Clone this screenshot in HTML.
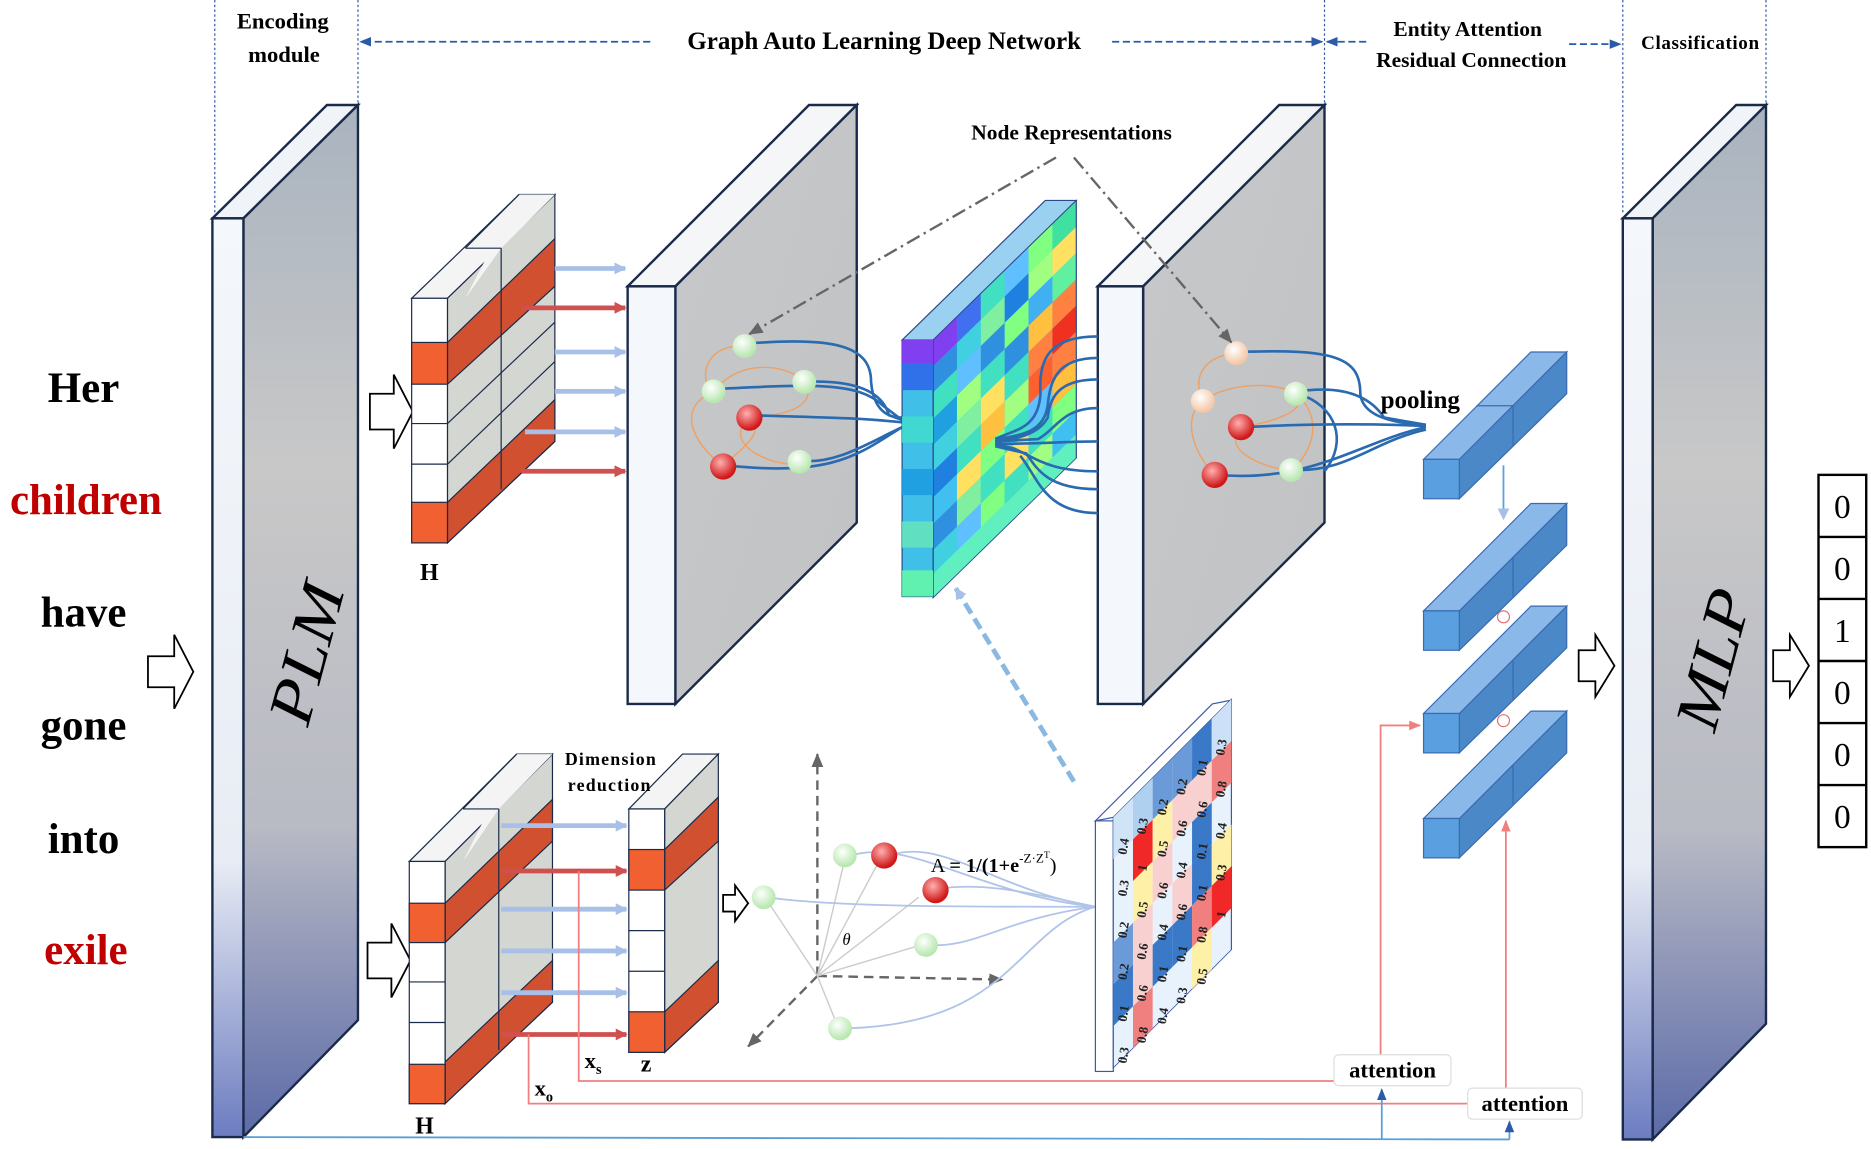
<!DOCTYPE html>
<html><head><meta charset="utf-8"><style>
html,body{margin:0;padding:0;background:#fff;}
svg{display:block;}
text{font-family:"Liberation Serif",serif;}
</style></head><body>
<svg width="1871" height="1149" viewBox="0 0 1568 963" preserveAspectRatio="none" xmlns="http://www.w3.org/2000/svg">
<defs>
<linearGradient id="side" x1="0" y1="0" x2="0" y2="1">
<stop offset="0" stop-color="#a9b3bf"/><stop offset="0.35" stop-color="#c8c8c8"/><stop offset="0.7" stop-color="#b8bac4"/><stop offset="1" stop-color="#5c6aa8"/></linearGradient>
<linearGradient id="front" x1="0" y1="0" x2="0" y2="1">
<stop offset="0" stop-color="#f4f8fc"/><stop offset="0.7" stop-color="#e8ecf4"/><stop offset="1" stop-color="#6c7cc0"/></linearGradient>
<linearGradient id="panel" x1="0" y1="0" x2="1" y2="1">
<stop offset="0" stop-color="#c6c8ca"/><stop offset="1" stop-color="#c0c2c4"/></linearGradient>
<radialGradient id="rb" cx="0.4" cy="0.35" r="0.6"><stop offset="0" stop-color="#ffb0b0"/><stop offset="1" stop-color="#d01818"/></radialGradient>
<radialGradient id="gb" cx="0.4" cy="0.35" r="0.6"><stop offset="0" stop-color="#ffffff"/><stop offset="1" stop-color="#b8e8b0"/></radialGradient>
<radialGradient id="pb" cx="0.4" cy="0.35" r="0.6"><stop offset="0" stop-color="#ffffff"/><stop offset="1" stop-color="#f4c8a8"/></radialGradient>
<marker id="ab" markerUnits="userSpaceOnUse" markerWidth="10" markerHeight="10" refX="9" refY="5" orient="auto"><path d="M0,1 L10,5 L0,9 z" fill="#2a5aa8"/></marker>
<marker id="ar" markerUnits="userSpaceOnUse" markerWidth="10" markerHeight="10" refX="9" refY="5" orient="auto"><path d="M0,0 L10,5 L0,10 z" fill="#d05050"/></marker>
<marker id="al" markerUnits="userSpaceOnUse" markerWidth="10" markerHeight="10" refX="9" refY="5" orient="auto"><path d="M0,0 L10,5 L0,10 z" fill="#a8c0e8"/></marker>
<marker id="ag" markerUnits="userSpaceOnUse" markerWidth="12" markerHeight="12" refX="11" refY="6" orient="auto"><path d="M0,1 L12,6 L0,11 z" fill="#666"/></marker>
<marker id="ap" markerUnits="userSpaceOnUse" markerWidth="10" markerHeight="10" refX="9" refY="5" orient="auto"><path d="M0,1 L10,5 L0,9 z" fill="#f08080"/></marker>
</defs>

<!-- header -->
<g stroke="#2a5aa8" stroke-dasharray="2,2" stroke-width="1">
<line x1="180" y1="0" x2="180" y2="180"/><line x1="300" y1="0" x2="300" y2="88"/>
<line x1="1110" y1="0" x2="1110" y2="88"/><line x1="1360" y1="0" x2="1360" y2="180"/><line x1="1480" y1="0" x2="1480" y2="88"/>
</g>
<text x="237" y="24" font-size="19" font-weight="bold" text-anchor="middle">Encoding</text>
<text x="238" y="52" font-size="19" font-weight="bold" text-anchor="middle">module</text>
<g stroke="#2a5aa8" stroke-width="1.5" stroke-dasharray="6,3" fill="none">
<line x1="545" y1="35" x2="302" y2="35" marker-end="url(#ab)"/>
<line x1="932" y1="35" x2="1108" y2="35" marker-end="url(#ab)"/>
<line x1="1145" y1="35" x2="1112" y2="35" marker-end="url(#ab)"/>
<line x1="1315" y1="37" x2="1358" y2="37" marker-end="url(#ab)"/>
</g>
<text x="741" y="41" font-size="21" font-weight="bold" text-anchor="middle">Graph Auto  Learning Deep Network</text>
<text x="1230" y="30" font-size="18" font-weight="bold" text-anchor="middle">Entity Attention</text>
<text x="1233" y="56" font-size="18" font-weight="bold" text-anchor="middle">Residual Connection</text>
<text x="1425" y="41" font-size="16" font-weight="bold" text-anchor="middle" letter-spacing="0.5">Classification</text>

<!-- words -->
<g font-size="36" font-weight="bold" text-anchor="middle">
<text x="70" y="337">Her</text>
<text x="72" y="431" fill="#c00000">children</text>
<text x="70" y="525">have</text>
<text x="70" y="620">gone</text>
<text x="70" y="715">into</text>
<text x="72" y="808" fill="#c00000">exile</text>
</g>

<!-- hollow arrows -->
<g fill="#fff" stroke="#000" stroke-width="1.5">
<path d="M124,550 L146,550 L146,532 L162,563 L146,594 L146,576 L124,576 z"/>
<path d="M310,330 L330,330 L330,314 L346,345 L330,376 L330,360 L310,360 z"/>
<path d="M308,790 L328,790 L328,774 L344,805 L328,836 L328,820 L308,820 z"/>
<path d="M1323,545 L1337,545 L1337,532 L1353,558 L1337,584 L1337,571 L1323,571 z"/>
<path d="M1486,545 L1500,545 L1500,532 L1516,558 L1500,584 L1500,571 L1486,571 z"/>
<path d="M606,750 L616,750 L616,742 L627,757 L616,772 L616,764 L606,764 z"/>
</g>

<!-- PLM -->
<polygon points="178,183 204,183 300,88 274,88" fill="#f0f4f8" stroke="#1a2a4a" stroke-width="2"/>
<polygon points="204,183 300,88 300,855 204,953" fill="url(#side)" stroke="#1a2a4a" stroke-width="2"/>
<rect x="178" y="183" width="26" height="770" fill="url(#front)" stroke="#1a2a4a" stroke-width="2"/>
<text x="0" y="0" font-size="52" font-style="italic" transform="translate(258,610) rotate(-75)" textLength="120" lengthAdjust="spacingAndGlyphs">PLM</text>

<!-- MLP -->
<polygon points="1360,183 1385,183 1480,88 1455,88" fill="#f0f4f8" stroke="#1a2a4a" stroke-width="2"/>
<polygon points="1385,183 1480,88 1480,858 1385,955" fill="url(#side)" stroke="#1a2a4a" stroke-width="2"/>
<rect x="1360" y="183" width="25" height="772" fill="url(#front)" stroke="#1a2a4a" stroke-width="2"/>
<text x="0" y="0" font-size="52" font-style="italic" transform="translate(1437,615) rotate(-75)" textLength="120" lengthAdjust="spacingAndGlyphs">MLP</text>

<!-- output -->
<g stroke="#000" stroke-width="2" fill="#fff">
<rect x="1524" y="398" width="40" height="312"/>
<line x1="1524" y1="450" x2="1564" y2="450"/><line x1="1524" y1="502" x2="1564" y2="502"/>
<line x1="1524" y1="554" x2="1564" y2="554"/><line x1="1524" y1="606" x2="1564" y2="606"/>
<line x1="1524" y1="658" x2="1564" y2="658"/>
</g>
<g font-size="28" text-anchor="middle">
<text x="1544" y="434">0</text><text x="1544" y="486">0</text><text x="1544" y="538">1</text>
<text x="1544" y="590">0</text><text x="1544" y="642">0</text><text x="1544" y="694">0</text>
</g>

<!-- top H stack -->
<g stroke="#1a2a4a" stroke-width="1">
<polygon points="345,250 375,250 465,163 435,163" fill="#f4f4f4"/>
<polygon points="375,250 465,163 465,370 375,455" fill="#d4d6d2"/>
<polygon points="390,250 420,208 465,163 435,163" fill="#f4f4f4" stroke="none"/>
<polygon points="375,287 465,200 465,240 375,322" fill="#d05030"/>
<polygon points="375,421 465,335 465,370 375,455" fill="#d05030"/>
<rect x="345" y="250" width="30" height="205" fill="#fff"/>
<rect x="345" y="287" width="30" height="35" fill="#f06030"/>
<rect x="345" y="421" width="30" height="34" fill="#f06030"/>
<line x1="345" y1="355" x2="375" y2="355"/><line x1="345" y1="389" x2="375" y2="389"/>
<line x1="375" y1="355" x2="465" y2="270"/><line x1="375" y1="389" x2="465" y2="303"/>
<line x1="420" y1="208" x2="420" y2="410"/>
<line x1="390" y1="208" x2="420" y2="208"/><line x1="390" y1="208" x2="435" y2="163"/>
</g>
<text x="352" y="486" font-size="20" font-weight="bold">H</text>
<g stroke-width="4" fill="none">
<line x1="465" y1="225" x2="524" y2="225" stroke="#a8c0e8" marker-end="url(#al)"/>
<line x1="437" y1="258" x2="524" y2="258" stroke="#d05050" marker-end="url(#ar)"/>
<line x1="465" y1="295" x2="524" y2="295" stroke="#a8c0e8" marker-end="url(#al)"/>
<line x1="465" y1="328" x2="524" y2="328" stroke="#a8c0e8" marker-end="url(#al)"/>
<line x1="440" y1="362" x2="524" y2="362" stroke="#a8c0e8" marker-end="url(#al)"/>
<line x1="437" y1="395" x2="524" y2="395" stroke="#d05050" marker-end="url(#ar)"/>
</g>

<!-- panel 1 -->
<polygon points="526,240 566,240 718,88 678,88" fill="#f4f6f8" stroke="#1a2a4a" stroke-width="2"/>
<polygon points="566,240 718,88 718,438 566,590" fill="url(#panel)" stroke="#1a2a4a" stroke-width="2"/>
<rect x="526" y="240" width="40" height="350" fill="#f4f7fb" stroke="#1a2a4a" stroke-width="2"/>
<!-- panel 2 -->
<polygon points="920,240 958,240 1110,88 1072,88" fill="#f4f6f8" stroke="#1a2a4a" stroke-width="2"/>
<polygon points="958,240 1110,88 1110,438 958,590" fill="url(#panel)" stroke="#1a2a4a" stroke-width="2"/>
<rect x="920" y="240" width="38" height="350" fill="#f4f7fb" stroke="#1a2a4a" stroke-width="2"/>

<!-- graph 1 -->
<g fill="none" stroke="#f0a060" stroke-width="1.2">
<path d="M620,290 C590,290 585,320 598,328 C560,345 590,380 606,390"/>
<path d="M598,328 C620,300 660,305 674,320 C690,345 640,350 628,350"/>
<path d="M628,350 C600,375 660,395 670,387"/><path d="M606,390 C630,370 640,360 628,350"/>
</g>
<g fill="none" stroke="#2a6ab0" stroke-width="2.2">
<path d="M626,288 C700,282 730,290 730,320 C732,345 745,350 756,350"/>
<path d="M600,326 C680,322 720,320 740,340 L756,352"/>
<path d="M674,320 C720,318 740,330 745,348 L756,352"/>
<path d="M630,348 C690,350 720,350 756,354"/>
<path d="M608,390 C700,400 720,380 756,358"/>
<path d="M670,386 C700,390 730,370 756,358"/>
</g>
<circle cx="624" cy="290" r="10" fill="url(#gb)"/>
<circle cx="598" cy="328" r="10" fill="url(#gb)"/>
<circle cx="674" cy="320" r="10" fill="url(#gb)"/>
<circle cx="628" cy="350" r="11" fill="url(#rb)"/>
<circle cx="606" cy="391" r="11" fill="url(#rb)"/>
<circle cx="670" cy="387" r="10" fill="url(#gb)"/>

<!-- heatmap -->
<polygon points="756,285 782,285 902,168 876,168" fill="#9ad0f0" stroke="#2a4a8a"/>
<g transform="matrix(1 -0.975 0 1 782 285)" stroke="none">
<rect x="0" y="0" width="120" height="216" fill="#40c8e0"/>
<rect x="0" y="0" width="20" height="22" fill="#8040f0"/><rect x="20" y="0" width="20" height="22" fill="#4070f0"/><rect x="40" y="0" width="20" height="22" fill="#40e0c0"/><rect x="60" y="0" width="20" height="22" fill="#60c0ff"/><rect x="80" y="0" width="20" height="22" fill="#80ff80"/><rect x="100" y="0" width="20" height="22" fill="#40e0a0"/>
<rect x="0" y="22" width="20" height="22" fill="#3090e0"/><rect x="20" y="22" width="20" height="22" fill="#40d0e0"/><rect x="40" y="22" width="20" height="22" fill="#80f0a0"/><rect x="60" y="22" width="20" height="22" fill="#2080e0"/><rect x="80" y="22" width="20" height="22" fill="#a0ff80"/><rect x="100" y="22" width="20" height="22" fill="#ffe060"/>
<rect x="0" y="44" width="20" height="22" fill="#40e0c0"/><rect x="20" y="44" width="20" height="22" fill="#60c0ff"/><rect x="40" y="44" width="20" height="22" fill="#3090e0"/><rect x="60" y="44" width="20" height="22" fill="#80ff80"/><rect x="80" y="44" width="20" height="22" fill="#40b0f0"/><rect x="100" y="44" width="20" height="22" fill="#60f0a0"/>
<rect x="0" y="66" width="20" height="22" fill="#20a0e0"/><rect x="20" y="66" width="20" height="22" fill="#a0ff80"/><rect x="40" y="66" width="20" height="22" fill="#40e0c0"/><rect x="60" y="66" width="20" height="22" fill="#3090e0"/><rect x="80" y="66" width="20" height="22" fill="#ffc040"/><rect x="100" y="66" width="20" height="22" fill="#ff8040"/>
<rect x="0" y="88" width="20" height="22" fill="#40d0e0"/><rect x="20" y="88" width="20" height="22" fill="#80f0a0"/><rect x="40" y="88" width="20" height="22" fill="#ffe060"/><rect x="60" y="88" width="20" height="22" fill="#40e0c0"/><rect x="80" y="88" width="20" height="22" fill="#ff8040"/><rect x="100" y="88" width="20" height="22" fill="#f03020"/>
<rect x="0" y="110" width="20" height="22" fill="#2080e0"/><rect x="20" y="110" width="20" height="22" fill="#40e0c0"/><rect x="40" y="110" width="20" height="22" fill="#ffc040"/><rect x="60" y="110" width="20" height="22" fill="#a0ff80"/><rect x="80" y="110" width="20" height="22" fill="#ff6030"/><rect x="100" y="110" width="20" height="22" fill="#ff8040"/>
<rect x="0" y="132" width="20" height="22" fill="#40c0f0"/><rect x="20" y="132" width="20" height="22" fill="#ffe060"/><rect x="40" y="132" width="20" height="22" fill="#80ff80"/><rect x="60" y="132" width="20" height="22" fill="#40e0c0"/><rect x="80" y="132" width="20" height="22" fill="#60c0ff"/><rect x="100" y="132" width="20" height="22" fill="#ffc040"/>
<rect x="0" y="154" width="20" height="22" fill="#3090e0"/><rect x="20" y="154" width="20" height="22" fill="#80f0a0"/><rect x="40" y="154" width="20" height="22" fill="#40e0c0"/><rect x="60" y="154" width="20" height="22" fill="#ffe060"/><rect x="80" y="154" width="20" height="22" fill="#40e0c0"/><rect x="100" y="154" width="20" height="22" fill="#80ff80"/>
<rect x="0" y="176" width="20" height="20" fill="#40d0e0"/><rect x="20" y="176" width="20" height="20" fill="#60c0ff"/><rect x="40" y="176" width="20" height="20" fill="#80ff80"/><rect x="60" y="176" width="20" height="20" fill="#40e0c0"/><rect x="80" y="176" width="20" height="20" fill="#a0ff80"/><rect x="100" y="176" width="20" height="20" fill="#40c0f0"/>
<rect x="0" y="196" width="120" height="20" fill="#60f0c0"/>
<rect x="0" y="0" width="120" height="216" fill="none" stroke="#2a4a8a"/>
</g>
<g>
<rect x="756" y="285" width="26" height="215" fill="#40c0e8" stroke="#2a4a8a"/>
<rect x="756" y="285" width="26" height="20" fill="#8040f0"/><rect x="756" y="305" width="26" height="22" fill="#3070e8"/>
<rect x="756" y="349" width="26" height="22" fill="#40d8d0"/><rect x="756" y="393" width="26" height="22" fill="#20a0e0"/>
<rect x="756" y="437" width="26" height="22" fill="#60e0c0"/><rect x="756" y="478" width="26" height="22" fill="#60f0b0"/>
</g>

<!-- graph 2 -->
<g fill="none" stroke="#2a6ab0" stroke-width="2.2">
<path d="M920,282 C880,282 870,300 872,330 C870,360 850,360 834,368"/>
<path d="M920,300 C885,300 880,320 878,340 C875,360 860,365 834,368"/>
<path d="M920,318 C885,318 880,335 878,350 C870,365 850,368 834,370"/>
<path d="M920,342 C890,342 885,360 870,368 L834,370"/>
<path d="M920,370 C890,370 880,372 834,372"/>
<path d="M920,395 C880,395 870,385 850,376 L834,372"/>
<path d="M920,410 C880,410 870,395 860,380 L834,374"/>
<path d="M920,430 C875,430 870,400 855,382"/>
</g>
<g fill="none" stroke="#f0a060" stroke-width="1.2">
<path d="M1034,296 C1005,300 1000,320 1008,336 C990,350 1000,380 1018,398"/>
<path d="M1008,336 C1030,320 1070,320 1086,330 C1100,345 1060,355 1040,358"/>
<path d="M1040,358 C1020,380 1070,395 1082,394"/><path d="M1086,330 C1110,350 1100,380 1082,394"/>
</g>
<g fill="none" stroke="#2a6ab0" stroke-width="2.2">
<path d="M1038,295 C1120,292 1140,300 1140,330 C1142,350 1170,355 1195,356"/>
<path d="M1088,328 C1130,322 1150,335 1160,350 L1195,356"/>
<path d="M1042,358 C1100,355 1150,355 1195,357"/>
<path d="M1020,398 C1100,405 1140,370 1195,358"/>
<path d="M1082,394 C1130,396 1150,370 1195,360"/>
<path d="M1088,330 C1120,340 1130,370 1110,395"/>
</g>
<circle cx="1036" cy="296" r="10" fill="url(#pb)"/>
<circle cx="1008" cy="336" r="10" fill="url(#pb)"/>
<circle cx="1086" cy="330" r="10" fill="url(#gb)"/>
<circle cx="1040" cy="358" r="11" fill="url(#rb)"/>
<circle cx="1018" cy="398" r="11" fill="url(#rb)"/>
<circle cx="1082" cy="394" r="10" fill="url(#gb)"/>

<!-- node representation label -->
<text x="898" y="117" font-size="18" font-weight="bold" text-anchor="middle">Node  Representations</text>
<g stroke="#666" stroke-width="2" stroke-dasharray="12,4,2,4" fill="none">
<line x1="885" y1="132" x2="628" y2="280" marker-end="url(#ag)"/>
<line x1="900" y1="132" x2="1032" y2="287" marker-end="url(#ag)"/>
</g>

<!-- blue bars right -->
<g stroke="#3a6ab0" stroke-width="1">
<polygon points="1193,385 1223,385 1268,340 1238,340" fill="#8ab8e8"/>
<polygon points="1238,340 1268,340 1313,295 1283,295" fill="#8ab8e8"/>
<polygon points="1223,385 1313,295 1313,330 1223,418" fill="#4a88c8"/>
<line x1="1268" y1="340" x2="1268" y2="374"/>
<rect x="1193" y="385" width="30" height="33" fill="#5aa0e0"/>
<polygon points="1223,512 1313,422 1313,457 1223,545" fill="#4a88c8"/>
<polygon points="1193,512 1223,512 1313,422 1283,422" fill="#8ab8e8"/>
<line x1="1268" y1="467" x2="1268" y2="500"/>
<rect x="1193" y="512" width="30" height="33" fill="#5aa0e0"/>
<polygon points="1223,598 1313,508 1313,543 1223,631" fill="#4a88c8"/>
<polygon points="1193,598 1223,598 1313,508 1283,508" fill="#8ab8e8"/>
<line x1="1268" y1="553" x2="1268" y2="586"/>
<rect x="1193" y="598" width="30" height="33" fill="#5aa0e0"/>
<polygon points="1223,686 1313,596 1313,631 1223,719" fill="#4a88c8"/>
<polygon points="1193,686 1223,686 1313,596 1283,596" fill="#8ab8e8"/>
<line x1="1268" y1="641" x2="1268" y2="674"/>
<rect x="1193" y="686" width="30" height="33" fill="#5aa0e0"/>
</g>
<text x="1157" y="342" font-size="21" font-weight="bold">pooling</text>
<line x1="1260" y1="390" x2="1260" y2="435" stroke="#5aa0e0" stroke-width="1.5" marker-end="url(#al)"/>
<circle cx="1260" cy="517" r="5" fill="none" stroke="#e07070"/><circle cx="1260" cy="604" r="5" fill="none" stroke="#e07070"/>

<!-- lower H stack -->
<g stroke="#1a2a4a" stroke-width="1">
<polygon points="343,722 373,722 463,632 433,632" fill="#f4f4f4"/>
<polygon points="373,722 463,632 463,840 373,925" fill="#d4d6d2"/>
<polygon points="388,722 418,678 463,632 433,632" fill="#f4f4f4" stroke="none"/>
<polygon points="373,757 463,670 463,705 373,790" fill="#d05030"/>
<polygon points="373,890 463,805 463,840 373,925" fill="#d05030"/>
<rect x="343" y="722" width="30" height="203" fill="#fff"/>
<rect x="343" y="757" width="30" height="33" fill="#f06030"/>
<rect x="343" y="892" width="30" height="33" fill="#f06030"/>
<line x1="343" y1="823" x2="373" y2="823"/><line x1="343" y1="857" x2="373" y2="857"/>
<line x1="418" y1="678" x2="418" y2="880"/>
<line x1="388" y1="678" x2="418" y2="678"/><line x1="388" y1="678" x2="433" y2="632"/>
</g>
<text x="348" y="950" font-size="20" font-weight="bold">H</text>
<!-- Z stack -->
<g stroke="#1a2a4a" stroke-width="1">
<polygon points="527,678 557,678 602,632 572,632" fill="#f4f4f4"/>
<polygon points="557,678 602,632 602,840 557,882" fill="#d4d6d2"/>
<polygon points="557,712 602,668 602,705 557,746" fill="#d05030"/>
<polygon points="557,848 602,805 602,840 557,882" fill="#d05030"/>
<rect x="527" y="678" width="30" height="204" fill="#fff"/>
<rect x="527" y="712" width="30" height="34" fill="#f06030"/>
<rect x="527" y="848" width="30" height="34" fill="#f06030"/>
<line x1="527" y1="780" x2="557" y2="780"/><line x1="527" y1="814" x2="557" y2="814"/>
</g>
<text x="512" y="641" font-size="15" font-weight="bold" text-anchor="middle" letter-spacing="1">Dimension</text>
<text x="511" y="663" font-size="15" font-weight="bold" text-anchor="middle" letter-spacing="1">reduction</text>
<g stroke-width="4" fill="none">
<line x1="420" y1="692" x2="525" y2="692" stroke="#a8c0e8" marker-end="url(#al)"/>
<line x1="420" y1="730" x2="525" y2="730" stroke="#d05050" marker-end="url(#ar)"/>
<line x1="420" y1="762" x2="525" y2="762" stroke="#a8c0e8" marker-end="url(#al)"/>
<line x1="420" y1="797" x2="525" y2="797" stroke="#a8c0e8" marker-end="url(#al)"/>
<line x1="420" y1="832" x2="525" y2="832" stroke="#a8c0e8" marker-end="url(#al)"/>
<line x1="420" y1="867" x2="525" y2="867" stroke="#d05050" marker-end="url(#ar)"/>
</g>
<text x="490" y="895" font-size="19" font-weight="bold">x<tspan font-size="12" dy="5">s</tspan></text>
<text x="537" y="898" font-size="20" font-weight="bold">z</text>
<text x="448" y="918" font-size="19" font-weight="bold">x<tspan font-size="12" dy="5">o</tspan></text>

<!-- red lines to attention -->
<g stroke="#f08080" stroke-width="1.5" fill="none">
<polyline points="485,730 485,906 1120,906"/>
<polyline points="443,867 443,925 1232,925"/>
<polyline points="1157,884 1157,608 1190,608" marker-end="url(#ap)"/>
<polyline points="1262,912 1262,688" marker-end="url(#ap)"/>
</g>
<polyline points="204,953 1265,955" fill="none" stroke="#5aa0d8" stroke-width="1.5"/>
<line x1="1158" y1="955" x2="1158" y2="913" stroke="#5aa0d8" stroke-width="1.5" marker-end="url(#ab)"/>
<line x1="1265" y1="955" x2="1265" y2="940" stroke="#5aa0d8" stroke-width="1.5" marker-end="url(#ab)"/>
<rect x="1118" y="884" width="98" height="26" rx="4" fill="#fff" stroke="#ddd"/>
<text x="1167" y="903" font-size="19" font-weight="bold" text-anchor="middle">attention</text>
<rect x="1230" y="912" width="96" height="26" rx="4" fill="#fff" stroke="#ddd"/>
<text x="1278" y="931" font-size="19" font-weight="bold" text-anchor="middle">attention</text>

<!-- axes -->
<g stroke="#666" stroke-width="2" stroke-dasharray="8,5" fill="none">
<line x1="685" y1="818" x2="685" y2="632" marker-end="url(#ag)"/>
<line x1="685" y1="818" x2="840" y2="821" marker-end="url(#ag)"/>
<line x1="685" y1="818" x2="627" y2="877" marker-end="url(#ag)"/>
</g>
<g stroke="#ccc" stroke-width="1.2" fill="none">
<line x1="685" y1="818" x2="645" y2="758"/><line x1="685" y1="818" x2="708" y2="720"/>
<line x1="685" y1="818" x2="735" y2="725"/><line x1="685" y1="818" x2="770" y2="752"/>
<line x1="685" y1="818" x2="772" y2="792"/><line x1="685" y1="818" x2="702" y2="860"/>
</g>
<text x="706" y="792" font-size="14" font-style="italic">θ</text>
<g fill="none" stroke="#b0c4e8" stroke-width="1.5">
<path d="M918,760 C800,760 700,760 642,752"/>
<path d="M918,760 C820,750 760,700 710,718"/>
<path d="M918,760 C830,745 790,700 742,718"/>
<path d="M918,760 C850,745 820,740 785,745"/>
<path d="M918,760 C840,770 820,795 776,792"/>
<path d="M918,760 C850,780 850,860 704,862"/>
</g>
<circle cx="640" cy="752" r="10" fill="url(#gb)"/>
<circle cx="708" cy="717" r="10" fill="url(#gb)"/>
<circle cx="741" cy="717" r="11" fill="url(#rb)"/>
<circle cx="784" cy="746" r="11" fill="url(#rb)"/>
<circle cx="776" cy="792" r="10" fill="url(#gb)"/>
<circle cx="704" cy="862" r="10" fill="url(#gb)"/>
<text x="780" y="731" font-size="17">A <tspan font-weight="bold">= 1/(1+e</tspan><tspan font-size="11" dy="-8">-Z·Z</tspan><tspan font-size="8" dy="-4">T</tspan><tspan dy="12">)</tspan></text>

<!-- dashed up arrow -->
<line x1="900" y1="655" x2="801" y2="493" stroke="#8ab8e0" stroke-width="4" stroke-dasharray="10,5" marker-end="url(#al)"/>

<!-- matrix -->
<polygon points="918,688 933,685 1031,587 1016,590" fill="#fff" stroke="#3a5aa8"/>
<rect x="918" y="688" width="15" height="210" fill="#fff" stroke="#3a5aa8"/>
<g transform="matrix(1 -1 0 1 933 685)">
<rect x="0" y="0" width="99" height="210" fill="#e8f2fc" stroke="#3a5aa8"/>
<rect x="0" y="0" width="16.5" height="35" fill="#d0e4f8"/><rect x="16.5" y="0" width="16.5" height="35" fill="#b0d0f0"/><rect x="33" y="0" width="16.5" height="35" fill="#6a9ad8"/><rect x="49.5" y="0" width="16.5" height="35" fill="#6a9ad8"/><rect x="66" y="0" width="16.5" height="35" fill="#3a78c8"/><rect x="82.5" y="0" width="16.5" height="35" fill="#cce0f8"/>
<rect x="16.5" y="35" width="16.5" height="35" fill="#f02828"/><rect x="33" y="35" width="16.5" height="35" fill="#fff0a8"/><rect x="49.5" y="35" width="16.5" height="35" fill="#f8d0d0"/><rect x="66" y="35" width="16.5" height="35" fill="#f8d0d0"/><rect x="82.5" y="35" width="16.5" height="35" fill="#f08080"/>
<rect x="16.5" y="70" width="16.5" height="35" fill="#fff0a8"/><rect x="33" y="70" width="16.5" height="35" fill="#f8d0d0"/><rect x="66" y="70" width="16.5" height="35" fill="#3a78c8"/>
<rect x="0" y="105" width="16.5" height="35" fill="#6a9ad8"/><rect x="16.5" y="105" width="16.5" height="35" fill="#f8d0d0"/><rect x="49.5" y="105" width="16.5" height="35" fill="#f8d0d0"/><rect x="66" y="105" width="16.5" height="35" fill="#3a78c8"/><rect x="82.5" y="105" width="16.5" height="35" fill="#fff0a8"/>
<rect x="0" y="140" width="16.5" height="35" fill="#3a78c8"/><rect x="16.5" y="140" width="16.5" height="35" fill="#f8d0d0"/><rect x="33" y="140" width="16.5" height="35" fill="#3a78c8"/><rect x="49.5" y="140" width="16.5" height="35" fill="#3a78c8"/><rect x="66" y="140" width="16.5" height="35" fill="#f08080"/><rect x="82.5" y="140" width="16.5" height="35" fill="#f02828"/>
<rect x="16.5" y="175" width="16.5" height="35" fill="#f08080"/><rect x="66" y="175" width="16.5" height="35" fill="#fff0a8"/>
</g>
<g font-size="11" font-weight="bold" fill="#222" text-anchor="middle">
<text transform="translate(945,710) rotate(-80)">0.4</text><text transform="translate(961,693) rotate(-80)">0.3</text><text transform="translate(978,677) rotate(-80)">0.2</text><text transform="translate(994,660) rotate(-80)">0.2</text><text transform="translate(1011,644) rotate(-80)">0.1</text><text transform="translate(1027,627) rotate(-80)">0.3</text>
<text transform="translate(945,745) rotate(-80)">0.3</text><text transform="translate(961,728) rotate(-80)">1</text><text transform="translate(978,712) rotate(-80)">0.5</text><text transform="translate(994,695) rotate(-80)">0.6</text><text transform="translate(1011,679) rotate(-80)">0.6</text><text transform="translate(1027,662) rotate(-80)">0.8</text>
<text transform="translate(945,780) rotate(-80)">0.2</text><text transform="translate(961,763) rotate(-80)">0.5</text><text transform="translate(978,747) rotate(-80)">0.6</text><text transform="translate(994,730) rotate(-80)">0.4</text><text transform="translate(1011,714) rotate(-80)">0.1</text><text transform="translate(1027,697) rotate(-80)">0.4</text>
<text transform="translate(945,815) rotate(-80)">0.2</text><text transform="translate(961,798) rotate(-80)">0.6</text><text transform="translate(978,782) rotate(-80)">0.4</text><text transform="translate(994,765) rotate(-80)">0.6</text><text transform="translate(1011,749) rotate(-80)">0.1</text><text transform="translate(1027,732) rotate(-80)">0.3</text>
<text transform="translate(945,850) rotate(-80)">0.1</text><text transform="translate(961,833) rotate(-80)">0.6</text><text transform="translate(978,817) rotate(-80)">0.1</text><text transform="translate(994,800) rotate(-80)">0.1</text><text transform="translate(1011,784) rotate(-80)">0.8</text><text transform="translate(1027,767) rotate(-80)">1</text>
<text transform="translate(945,885) rotate(-80)">0.3</text><text transform="translate(961,868) rotate(-80)">0.8</text><text transform="translate(978,852) rotate(-80)">0.4</text><text transform="translate(994,835) rotate(-80)">0.3</text><text transform="translate(1011,819) rotate(-80)">0.5</text>
</g>
</svg>
</body></html>
